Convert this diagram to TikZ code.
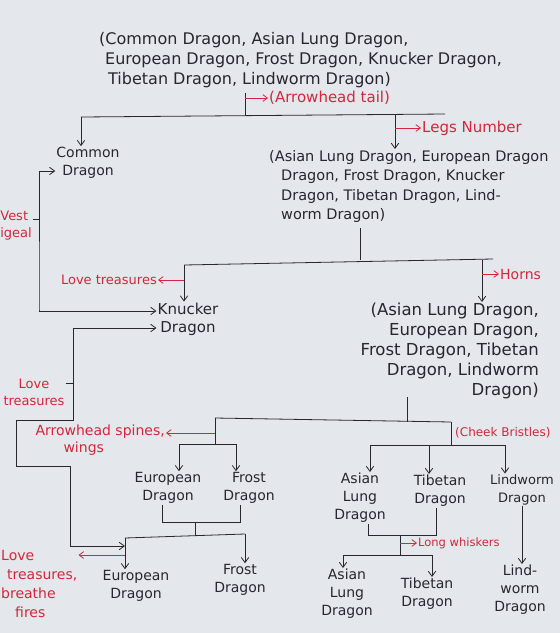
\documentclass[tikz,border=0pt]{standalone}
\usepackage{fontspec}
\setmainfont{DejaVu Sans}
\usetikzlibrary{arrows.meta, positioning}
\definecolor{paper}{RGB}{228,231,235}
\definecolor{ink}{RGB}{40,38,48}
\definecolor{pen}{RGB}{212,38,60}

\begin{document}
\begin{tikzpicture}[
    x=1pt, y=-1pt,
    font=\fontsize{14}{18}\selectfont,
    every node/.style={inner sep=1pt, text=ink},
    taxon/.style={align=center},
    group/.style={align=left},
    trait/.style={text=pen, align=left, font=\fontsize{13}{17}\selectfont},
    link/.style={draw=ink, line width=0.8pt},
    arr/.style={link, -{Straight Barb[length=1.8mm, width=2.6mm]}},
    twoway/.style={link, {Straight Barb[length=1.8mm, width=2.6mm]}-{Straight Barb[length=1.8mm, width=2.6mm]}},
    redarr/.style={draw=pen, line width=0.8pt, -{Straight Barb[length=1.6mm, width=2.4mm]}}
  ]
    \fill[paper] (0,0) rectangle (560,633);
    \useasboundingbox (0,0) rectangle (560,633);

    % all seven dragons
    \node[group, anchor=north west, font=\fontsize{16}{20}\selectfont] (all) at (98,31) {(Common Dragon, Asian Lung Dragon,\\
      \hspace*{6pt}European Dragon, Frost Dragon, Knucker Dragon,\\
      \hspace*{9pt}Tibetan Dragon, Lindworm Dragon)};
    \coordinate (tail) at (245,93);
    \coordinate (b1L) at (81,117);
    \coordinate (b1M) at (395,115);
    \coordinate (b1R) at (445,114);
    \draw[link] (tail) -- (tail |- b1M);
    \draw[link] (b1L) -- (b1R);
    \node[trait, anchor=west, font=\fontsize{15}{18}\selectfont] (tailnote) at (268,98) {(Arrowhead tail)};
    \draw[redarr] (tail |- tailnote) -- (tailnote.west);

    \node[taxon] (common) at (88,163) {Common\\Dragon};
    \node[group, anchor=north west, font=\fontsize{14.5}{19.5}\selectfont] (rest1) at (268,149) {(Asian Lung Dragon, European Dragon\\
      \hspace*{12pt}Dragon, Frost Dragon, Knucker\\
      \hspace*{12pt}Dragon, Tibetan Dragon, Lind-\\
      \hspace*{12pt}worm Dragon)};
    \draw[arr] (b1L) -- (b1L |- common.north);
    \draw[arr] (b1M) -- (b1M |- rest1.north);
    \node[trait, anchor=west, font=\fontsize{15}{18}\selectfont] (legs) at (421,128) {Legs Number};
    \draw[redarr] (b1M |- legs) -- (legs.west);

    % second split
    \coordinate (t2) at (360,228);
    \coordinate (b2L) at (184,265);
    \coordinate (b2M) at (482,260);
    \coordinate (b2R) at (493,259);
    \draw[link] (t2) -- (t2 |- b2M);
    \draw[link] (b2L) -- (b2R);
    \node[taxon, font=\fontsize{15}{18}\selectfont] (knucker) at (188,319) {Knucker\\Dragon};
    \node[align=right, anchor=north east, font=\fontsize{16.5}{20}\selectfont] (rest2) at (540,302) {(Asian Lung Dragon,\\
      European Dragon,\\ Frost Dragon, Tibetan\\ Dragon, Lindworm\\ Dragon)};
    \draw[arr] (b2L) -- (b2L |- knucker.north);
    \draw[arr] (b2M) -- (b2M |- rest2.north);
    \node[trait, anchor=east] (love1) at (158,280) {Love treasures};
    \draw[redarr] (b2L |- love1) -- (love1.east);
    \node[trait, anchor=west, font=\fontsize{14}{17}\selectfont] (horns) at (499,274) {Horns};
    \draw[redarr] (b2M |- horns) -- (horns.west);

    % vestigial legs
    \coordinate (v2) at (39,310);
    \node[trait, anchor=east] (vest) at (33,226) {Vest\\igeal};
    \draw[twoway] ([yshift=-8pt]common.west) -| (v2) |- ([yshift=8pt]knucker.west);
    \draw[link] ([yshift=7pt]vest.east) -- ([yshift=7pt]vest.east -| v2);

    % third split
    \coordinate (t3) at (407,397);
    \coordinate (b3L) at (215,418);
    \coordinate (b3R) at (451,422);
    \draw[link] (t3) -- (t3 |- b3R);
    \draw[link] (b3L) -- (b3R);

    % winged branch
    \coordinate (s3) at (215,433);
    \coordinate (b3aL) at (179,444);
    \coordinate (b3aM) at (215,444);
    \coordinate (b3aR) at (236,444);
    \draw[link] (b3L) -- (b3aM);
    \draw[link] (b3aL) -- (b3aR);
    \node[trait, anchor=north east, font=\fontsize{14}{17}\selectfont] (spines) at (166,424) {Arrowhead spines,\\\hspace*{28pt}wings};
    \draw[redarr] (s3) -- (s3 -| spines.east);
    \node[taxon] (eu1) at (168,488) {European\\Dragon};
    \node[taxon] (fr1) at (249,488) {Frost\\Dragon};
    \draw[arr] (b3aL) -- (b3aL |- eu1.north);
    \draw[arr] (b3aR) -- (b3aR |- fr1.north);
    \coordinate (k1L) at (162,522);
    \coordinate (k1M) at (195,522);
    \coordinate (k1R) at (240,522);
    \draw[link] (k1L |- eu1.south) -- (k1L) -- (k1R) -- (k1R |- fr1.south);
    \coordinate (b4L) at (125,538);
    \coordinate (b4R) at (245,534);
    \draw[link] (k1M) -- (k1M |- 0,536);
    \draw[link] (b4L) -- (b4R);
    \node[taxon] (eu2) at (136,586) {European\\Dragon};
    \node[taxon] (fr2) at (240,580) {Frost\\Dragon};
    \draw[arr] (b4L) -- (b4L |- eu2.north);
    \draw[arr] (b4R) -- (b4R |- fr2.north);
    \node[trait, anchor=north west, font=\fontsize{14}{19}\selectfont] (fires) at (0,549) {Love\\\hspace*{6pt}treasures,\\breathe\\\hspace*{14pt}fires};
    \coordinate (f4) at (125,555);
    \draw[redarr] (f4) -- (f4 -| fires.east);

    % treasure link
    \coordinate (p1) at (73,420);
    \coordinate (p2) at (16,466);
    \coordinate (p3) at (70,546);
    \node[trait, align=center] (love2) at (34,392) {Love\\treasures};
    \draw[twoway] ([yshift=-9pt]knucker.west) -| (p1) -| (p2) -| (p3) -- (p3 -| b4L);
    \draw[link] ([yshift=9pt]love2.east) -- ([yshift=9pt]love2.east -| p1);

    % bristled branch
    \coordinate (c3) at (451,445);
    \coordinate (b5L) at (370,445);
    \coordinate (b5M) at (429,445);
    \coordinate (b5R) at (505,445);
    \draw[link] (b3R) -- (c3);
    \draw[link] (b5L) -- (b5R);
    \node[trait, anchor=west, font=\fontsize{12}{15}\selectfont] (cheek) at (454,433) {(Cheek Bristles)};
    \node[taxon] (asian1) at (360,498) {Asian\\Lung\\Dragon};
    \node[taxon] (tibet1) at (440,491) {Tibetan\\Dragon};
    \node[taxon, font=\fontsize{13}{18}\selectfont] (lind1) at (522,490) {Lindworm\\Dragon};
    \draw[arr] (b5L) -- (b5L |- asian1.north);
    \draw[arr] (b5M) -- (b5M |- tibet1.north);
    \draw[arr] (b5R) -- (b5R |- lind1.north);
    \coordinate (k2L) at (368,535);
    \coordinate (k2M) at (400,535);
    \coordinate (k2R) at (436,535);
    \draw[link] (k2L |- asian1.south) -- (k2L) -- (k2R) -- (k2R |- tibet1.south);
    \coordinate (w) at (400,543);
    \coordinate (b6L) at (343,555);
    \coordinate (b6R) at (432,555);
    \draw[link] (k2M) -- (k2M |- b6L);
    \draw[link] (b6L) -- (b6R);
    \node[trait, anchor=west, font=\fontsize{11.5}{14}\selectfont] (whisk) at (417,543) {Long whiskers};
    \draw[redarr] (w) -- (whisk.west);
    \node[taxon] (asian2) at (347,594) {Asian\\Lung\\Dragon};
    \node[taxon] (tibet2) at (427,594) {Tibetan\\Dragon};
    \node[taxon] (lind2) at (520,590) {Lind-\\worm\\Dragon};
    \draw[arr] (b6L) -- (b6L |- asian2.north);
    \draw[arr] (b6R) -- (b6R |- tibet2.north);
    \draw[arr] (lind1.south) -- (lind1.south |- lind2.north);
  \end{tikzpicture}
\end{document}
